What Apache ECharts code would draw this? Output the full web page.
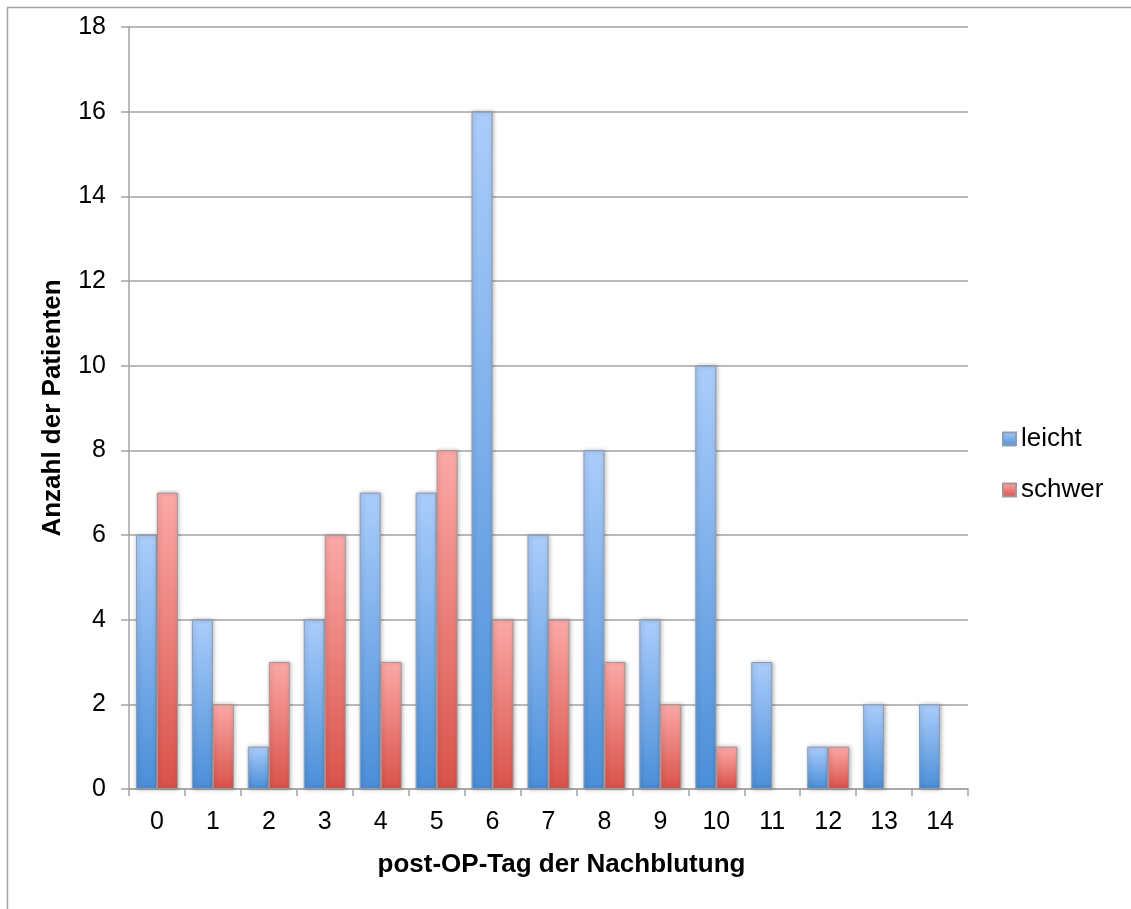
<!DOCTYPE html>
<html>
<head>
<meta charset="utf-8">
<script src="https://cdn.jsdelivr.net/npm/echarts@6/dist/echarts.min.js"></script>
<style>
  html, body { margin: 0; padding: 0; background: #fff; }
  #chart { width: 1131px; height: 909px; }
</style>
</head>
<body>
<div id="chart"></div>
<script>
// Post-operative day of the rebleed (x) and number of patients per severity
const days = ['0','1','2','3','4','5','6','7','8','9','10','11','12','13','14'];
const leicht = [6, 4, 1, 4, 7, 7, 16, 6, 8, 4, 10, 3, 1, 2, 2];
const schwer = [7, 2, 3, 6, 3, 8, 4, 4, 3, 2, 1, null, 1, null, null];
const yTicks = { min: 0, max: 18, interval: 2 };

const FONT = '"Liberation Sans", Arial, sans-serif';
const GRID_GREY = '#a3a3a3';

function grad(top, bottom) {
  return new echarts.graphic.LinearGradient(0, 0, 0, 1, [
    { offset: 0, color: top },
    { offset: 1, color: bottom }
  ]);
}

const chart = echarts.init(document.getElementById('chart'), null, { renderer: 'canvas' });

const barStyle = (top, bottom, border) => ({
  color: grad(top, bottom),
  borderColor: border,
  borderWidth: 1,
  shadowColor: 'rgba(0,0,0,0.28)',
  shadowBlur: 4,
  shadowOffsetX: 1,
  shadowOffsetY: 0
});

chart.setOption({
  animation: false,
  backgroundColor: '#ffffff',
  textStyle: { fontFamily: FONT },
  graphic: [
    { type: 'line', shape: { x1: 7, y1: 7.5, x2: 1131, y2: 7.5 }, style: { stroke: GRID_GREY, lineWidth: 1.5 } },
    { type: 'line', shape: { x1: 7.5, y1: 7, x2: 7.5, y2: 909 }, style: { stroke: GRID_GREY, lineWidth: 1.5 } }
  ],
  grid: { left: 129, right: 163, top: 27, bottom: 120, containLabel: false },
  legend: {
    orient: 'vertical',
    left: 997,
    top: 421,
    itemWidth: 13,
    itemHeight: 13,
    itemGap: 25,
    icon: 'rect',
    textStyle: { fontSize: 26, color: '#000', fontFamily: FONT },
    data: ['leicht', 'schwer']
  },
  xAxis: {
    type: 'category',
    data: days,
    boundaryGap: true,
    name: 'post-OP-Tag der Nachblutung',
    nameLocation: 'middle',
    nameGap: 63,
    nameTextStyle: { fontSize: 26, fontWeight: 'bold', color: '#000', fontFamily: FONT, padding: [0, 0, 0, 26] },
    axisLine: { lineStyle: { color: GRID_GREY, width: 1.5 } },
    axisTick: { show: true, alignWithLabel: false, length: 7, lineStyle: { color: GRID_GREY, width: 1.5 } },
    axisLabel: { fontSize: 25, color: '#000', margin: 21, fontFamily: FONT },
    splitLine: { show: false }
  },
  yAxis: {
    type: 'value',
    min: yTicks.min,
    max: yTicks.max,
    interval: yTicks.interval,
    name: 'Anzahl der Patienten',
    nameLocation: 'middle',
    nameGap: 63,
    nameRotate: 90,
    nameTextStyle: { fontSize: 26, fontWeight: 'bold', color: '#000', fontFamily: FONT },
    axisLine: { show: true, lineStyle: { color: GRID_GREY, width: 1.5 } },
    axisTick: { show: true, length: 8, lineStyle: { color: GRID_GREY, width: 1.5 } },
    axisLabel: { fontSize: 25, color: '#000', margin: 23, fontFamily: FONT },
    splitLine: { show: true, lineStyle: { color: GRID_GREY, width: 1.5 } }
  },
  series: [
    {
      name: 'leicht',
      type: 'bar',
      data: leicht,
      barGap: '0%',
      barCategoryGap: '25%',
      itemStyle: barStyle('#abcdfb', '#4a8ed8', '#8d9db3')
    },
    {
      name: 'schwer',
      type: 'bar',
      data: schwer,
      barGap: '0%',
      barCategoryGap: '25%',
      itemStyle: barStyle('#fca9a7', '#d9524a', '#a89595')
    }
  ]
});
</script>
</body>
</html>
